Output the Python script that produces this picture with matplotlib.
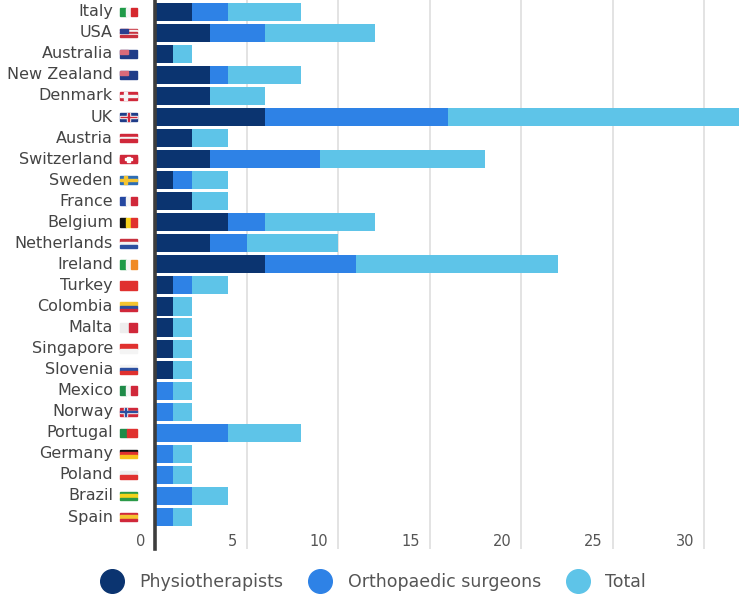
import numpy as np
import matplotlib
matplotlib.use("Agg")
import matplotlib.pyplot as plt
from matplotlib.lines import Line2D
from matplotlib.patches import Rectangle
from matplotlib.transforms import blended_transform_factory, ScaledTranslation

plt.rcParams['font.family'] = ['DejaVu Sans']

countries = ["Italy", "USA", "Australia", "New Zealand", "Denmark", "UK", "Austria",
             "Switzerland", "Sweden", "France", "Belgium", "Netherlands", "Ireland",
             "Turkey", "Colombia", "Malta", "Singapore", "Slovenia", "Mexico", "Norway",
             "Portugal", "Germany", "Poland", "Brazil", "Spain"]
physio = [2, 3, 1, 3, 3, 6, 2, 3, 1, 2, 4, 3, 6, 1, 1, 1, 1, 1, 0, 0, 0, 0, 0, 0, 0]
ortho = [2, 3, 0, 1, 0, 10, 0, 6, 1, 0, 2, 2, 5, 1, 0, 0, 0, 0, 1, 1, 4, 1, 1, 2, 1]
total = [4, 6, 1, 4, 3, 16, 2, 9, 2, 2, 6, 5, 11, 2, 1, 1, 1, 1, 1, 1, 4, 1, 1, 2, 1]
xticks = [0, 5, 10, 15, 20, 25, 30]

series_names = ["Physiotherapists", "Orthopaedic surgeons", "Total"]
colors = ["#0b3470", "#2e82e6", "#5ec4e8"]

# tiny flag drawings: (direction, stripe colours, weights, cross)
flags = {
    "Italy": ("v", ["#1f9a48", "#f4f4f4", "#d6282e"], None, None),
    "USA": ("h", ["#c8313e", "#f4f4f4", "#c8313e", "#f4f4f4", "#c8313e"], None, "canton"),
    "Australia": ("h", ["#1f3c88"], None, "ukcanton"),
    "New Zealand": ("h", ["#1f3c88"], None, "ukcanton"),
    "Denmark": ("h", ["#d0283a"], None, ("#f4f4f4", None)),
    "UK": ("h", ["#1f3c88"], None, ("#f4f4f4", "#d0283a", "mid")),
    "Austria": ("h", ["#d0283a", "#f4f4f4", "#d0283a"], None, None),
    "Switzerland": ("h", ["#ffffff", "#d0283a", "#ffffff"], [0.2, 0.6, 0.2], "swiss"),
    "Sweden": ("h", ["#2d6db5"], None, ("#f4c430", None)),
    "France": ("v", ["#2447a0", "#f4f4f4", "#d0283a"], None, None),
    "Belgium": ("v", ["#111111", "#f7d21c", "#e0312f"], None, None),
    "Netherlands": ("h", ["#c8313e", "#f4f4f4", "#2b4fa0"], None, None),
    "Ireland": ("v", ["#1f9a48", "#f4f4f4", "#f08a24"], None, None),
    "Turkey": ("h", ["#e0312f"], None, None),
    "Colombia": ("h", ["#f4c430", "#2b4fa0", "#d0283a"], [0.5, 0.25, 0.25], None),
    "Malta": ("v", ["#eeeeee", "#d0283a"], None, None),
    "Singapore": ("h", ["#e0312f", "#f4f4f4"], None, None),
    "Slovenia": ("h", ["#f4f4f4", "#2b4fa0", "#e0312f"], None, None),
    "Mexico": ("v", ["#1f8a48", "#f4f4f4", "#d0283a"], None, None),
    "Norway": ("h", ["#d0283a"], None, ("#f4f4f4", "#2b4fa0")),
    "Portugal": ("v", ["#1f8a48", "#e0312f"], [0.4, 0.6], None),
    "Germany": ("h", ["#111111", "#e0312f", "#f7c21c"], None, None),
    "Poland": ("h", ["#eeeeee", "#e0312f"], None, None),
    "Brazil": ("h", ["#2b9a48", "#f4d21c", "#2b9a48"], [0.25, 0.5, 0.25], None),
    "Spain": ("h", ["#d0283a", "#f4c430", "#d0283a"], [0.25, 0.5, 0.25], None),
}

fig = plt.figure(figsize=(7.42, 5.95), dpi=100)
ax = fig.add_axes([155 / 742, 1 - 549 / 595, 584 / 742, 549 / 595])

y = np.arange(len(countries))
left = np.zeros(len(countries))
for vals, name, c in zip([physio, ortho, total], series_names, colors):
    ax.barh(y, vals, left=left, height=0.86, color=c, label=name, zorder=3)
    left = left + np.array(vals)

ax.set_xlim(0, 31.9)
ax.set_ylim(25.52, -0.56)
ax.set_xticks(xticks[1:])
ax.tick_params(axis="x", length=0, labelbottom=False)
ax.tick_params(axis="y", length=0, labelleft=False)
ax.grid(axis="x", color="#e3e3e3", linewidth=1.4, zorder=0)
for s in ["top", "right", "bottom"]:
    ax.spines[s].set_visible(False)
ax.spines["left"].set_color("#3d3d3d")
ax.spines["left"].set_linewidth(2.6)
ax.spines["left"].set_zorder(5)

# tick numbers sit just left of their gridline
shift = ScaledTranslation(-7 / 72, 0, fig.dpi_scale_trans)
for t in xticks:
    ax.text(t, 25.17, str(t), ha="right", va="center", fontsize=10.5,
            color="#555555", transform=ax.transData + shift)

# country names and small flags
trans = blended_transform_factory(ax.transAxes, ax.transData)
fx0, fw = (120 - 155) / 584, 17 / 584
fh = 0.4
for i, name in enumerate(countries):
    ax.text(fx0 - 7 / 584, i, name, ha="right", va="center", fontsize=11.5,
            color="#444444", transform=trans, clip_on=False)
    d, cols, w, cross = flags[name]
    w = w or [1 / len(cols)] * len(cols)
    pos = 0
    for c, wi in zip(cols, w):
        if d == "v":
            r = Rectangle((fx0 + pos * fw, i - fh / 2), wi * fw, fh, color=c)
        else:
            r = Rectangle((fx0, i - fh / 2 + pos * fh), fw, wi * fh, color=c)
        r.set_transform(trans)
        r.set_clip_on(False)
        ax.add_patch(r)
        pos += wi
    extra = []
    if cross == "canton":
        extra.append((0, 0, 0.45, 0.55, "#2b3f8f"))
    elif cross == "ukcanton":
        extra.append((0, 0, 0.45, 0.5, "#d86a7a"))
    elif cross == "swiss":
        extra = [(0, 0, 1, 1, "#d0283a"), (0.42, 0.2, 0.16, 0.6, "#ffffff"),
                 (0.3, 0.42, 0.4, 0.16, "#ffffff")]
    elif cross is not None:
        cc = cross[0]
        inner = cross[1] if len(cross) > 1 else None
        cx = 0.5 if len(cross) > 2 else 0.32
        extra = [(cx - 0.1, 0, 0.2, 1, cc), (0, 0.4, 1, 0.2, cc)]
        if inner:
            extra += [(cx - 0.05, 0, 0.1, 1, inner), (0, 0.45, 1, 0.1, inner)]
    for ex, ey, ew, eh, c in extra:
        r = Rectangle((fx0 + ex * fw, i - fh / 2 + ey * fh), ew * fw, eh * fh, color=c)
        r.set_transform(trans)
        r.set_clip_on(False)
        ax.add_patch(r)

handles = [Line2D([], [], marker="o", linestyle="", markersize=17, markerfacecolor=c,
                  markeredgecolor=c) for c in colors]
fig.legend(handles, series_names, loc="center", bbox_to_anchor=(0.499, 0.022), ncol=3,
           frameon=False, fontsize=12.5, handletextpad=0.6, columnspacing=1.1,
           labelcolor="#555555")

fig.savefig("out.png", dpi=100)
